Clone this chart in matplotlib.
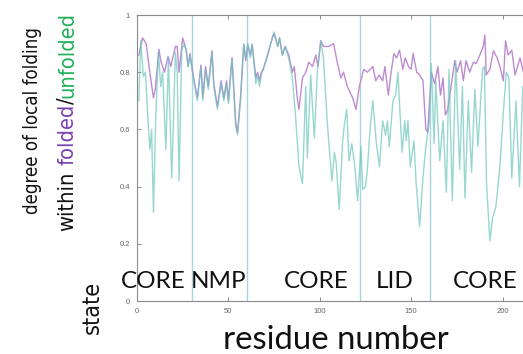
import matplotlib
matplotlib.use('Agg')
import matplotlib.pyplot as plt
from matplotlib import font_manager as fm

# ---------------- data ----------------
folded_res = [1, 3, 5, 7, 9, 10, 12, 13, 15, 17, 18.5, 21, 22, 23, 25, 27, 28, 29,
              31, 33, 35, 36, 37.5, 39, 41, 42, 44, 46, 47.5, 49, 50, 52, 54, 55, 56.6,
              58.4, 59.5, 60.6, 62, 63, 65, 66, 67, 68, 69, 71, 74, 75, 77, 78, 79.5,
              81, 83, 85, 86, 87.7, 88.6, 90.5, 92.3, 94, 96, 97.8, 99, 100.5, 102,
              105, 107.5, 109.7, 111.5, 113, 115, 118, 119.8, 121.6, 124, 126, 129,
              130.6, 132.5, 134.4, 135.6, 137.5, 139, 140.5, 142, 143.6, 145.4, 146.7,
              148.5, 150, 151, 153, 154.6, 156.4, 158, 159, 161, 162.8, 164.6, 166,
              167.4, 168.7, 170, 172, 173.8, 175, 177, 178.5, 180, 182, 184, 185.5,
              187.5, 189.4, 190.3, 191, 193, 195, 197, 198.5, 200.4, 201.6, 203, 205,
              206.8, 209.5, 211.4, 213]
folded = [0.86, 0.92, 0.90, 0.80, 0.71, 0.74, 0.88, 0.84, 0.80, 0.855, 0.82, 0.89, 0.89,
          0.80, 0.92, 0.875, 0.82, 0.865, 0.78, 0.71, 0.825, 0.71, 0.82, 0.75, 0.875,
          0.76, 0.68, 0.77, 0.71, 0.77, 0.70, 0.85, 0.62, 0.59, 0.71, 0.895, 0.84, 0.895,
          0.86, 0.895, 0.78, 0.80, 0.77, 0.80, 0.81, 0.85, 0.92, 0.935, 0.89, 0.92, 0.86,
          0.89, 0.86, 0.80, 0.82, 0.71, 0.67, 0.78, 0.80, 0.835, 0.82, 0.86, 0.82, 0.91,
          0.89, 0.89, 0.90, 0.83, 0.78, 0.80, 0.75, 0.71, 0.67, 0.75, 0.81, 0.80, 0.82,
          0.77, 0.79, 0.77, 0.82, 0.72, 0.80, 0.865, 0.85, 0.877, 0.81, 0.85, 0.82, 0.81,
          0.866, 0.80, 0.79, 0.772, 0.60, 0.59, 0.80, 0.76, 0.82, 0.72, 0.78, 0.65, 0.67,
          0.76, 0.84, 0.80, 0.84, 0.77, 0.84, 0.80, 0.835, 0.83, 0.86, 0.89, 0.93, 0.79,
          0.81, 0.875, 0.85, 0.82, 0.77, 0.91, 0.86, 0.877, 0.79, 0.85, 0.80, 0.82]

unfolded_res = [1, 2, 3.5, 4.6, 6.2, 7.1, 8, 9, 10.2, 11.7, 13, 14, 15.8, 17.2, 19, 21,
                22, 23, 24.5, 26, 27, 28, 29, 31, 33, 35, 36, 37.5, 39, 41, 42, 44, 46,
                47.5, 49, 50, 52, 54, 55, 56.6, 58.4, 59.5, 60.6, 62, 63, 65, 66, 67, 68,
                69, 71, 74, 75, 77, 78, 79.5, 81, 83, 85, 86.8, 88.6, 90.5, 92.3, 93.2,
                95, 97, 98.7, 100.5, 102, 104, 106.6, 108, 109, 110.6, 112.5, 113.5,
                114.7, 116, 117.5, 119, 120.7, 122.5, 123.5, 125, 126, 127.6, 129, 130.8,
                132.6, 134.4, 136, 137, 138, 140, 141.5, 142.7, 145, 146.5, 147.3, 148.2,
                149.5, 151.5, 152.7, 154.6, 156.4, 158, 160, 161, 162.5, 163.4, 165.6,
                167.4, 169.2, 170.7, 172.5, 174.3, 176.5, 178, 179.4, 181.2, 183, 184.8,
                186.5, 189, 190, 191.2, 193, 194.5, 196.3, 198.5, 200.4, 202, 203.4, 205,
                207.3, 209.2, 211, 213]
unfolded = [0.70, 0.91, 0.785, 0.80, 0.61, 0.53, 0.60, 0.31, 0.63, 0.87, 0.75, 0.80, 0.53,
            0.85, 0.43, 0.87, 0.80, 0.42, 0.88, 0.90, 0.87, 0.82, 0.86, 0.77, 0.70, 0.82,
            0.70, 0.81, 0.74, 0.87, 0.75, 0.67, 0.76, 0.70, 0.76, 0.69, 0.85, 0.61, 0.58,
            0.70, 0.90, 0.85, 0.90, 0.85, 0.90, 0.76, 0.79, 0.75, 0.79, 0.81, 0.85, 0.92,
            0.94, 0.89, 0.92, 0.86, 0.89, 0.85, 0.78, 0.64, 0.47, 0.41, 0.75, 0.50, 0.79,
            0.57, 0.81, 0.91, 0.85, 0.63, 0.42, 0.52, 0.48, 0.32, 0.56, 0.62, 0.67, 0.49,
            0.55, 0.48, 0.35, 0.54, 0.39, 0.40, 0.46, 0.61, 0.70, 0.56, 0.47, 0.63, 0.58,
            0.63, 0.54, 0.70, 0.72, 0.80, 0.52, 0.63, 0.56, 0.63, 0.47, 0.56, 0.41, 0.26,
            0.43, 0.54, 0.63, 0.83, 0.55, 0.77, 0.49, 0.63, 0.38, 0.81, 0.35, 0.84, 0.46,
            0.75, 0.36, 0.70, 0.45, 0.74, 0.54, 0.81, 0.82, 0.41, 0.21, 0.29, 0.33, 0.47,
            0.66, 0.80, 0.78, 0.43, 0.70, 0.40, 0.75, 0.70]

domain_names = ['CORE', 'NMP', 'CORE', 'LID', 'CORE']
domain_boundaries = [30, 60, 122, 160]

xticks = [0, 50, 100, 150, 200]
yticks = [0, 0.2, 0.4, 0.6, 0.8, 1]
ytick_labels = ['0', '0.2', '0.4', '0.6', '0.8', '1']

# ---------------- style ----------------
W, H = 523, 354


def has_font(name):
    try:
        fm.findfont(fm.FontProperties(family=name), fallback_to_default=False)
        return True
    except Exception:
        return False


MAIN = 'Lato' if has_font('Lato') else 'DejaVu Sans'
TICKF = 'Liberation Sans' if has_font('Liberation Sans') else 'DejaVu Sans'

# narrowest available font for the (horizontally squeezed) y label
NARROW, NSTRETCH = MAIN, 'normal'
for fam, st, key in [('Noto Sans', 'extra-condensed', 'xtraCondensed'),
                     ('Noto Sans', 'condensed', 'Condensed'),
                     ('DejaVu Sans', 'condensed', 'ondensed')]:
    try:
        p = fm.findfont(fm.FontProperties(family=fam, stretch=st),
                        fallback_to_default=False)
        if key in p:
            NARROW, NSTRETCH = fam, st
            break
    except Exception:
        pass

C_FOLD = '#bd8bd2'
C_UNF = '#6cc6bc'
C_FOLD_TXT = '#7b3fb3'
C_UNF_TXT = '#22b05a'
C_SEP = '#a9d5de'

fig = plt.figure(figsize=(W / 100, H / 100), dpi=100)
ax = fig.add_axes([137 / W, 1 - 301 / H, (W - 137) / W + 0.01, (301 - 15) / H])

ax.plot(folded_res, folded, color=C_FOLD, lw=1.0, zorder=3)
ax.plot(unfolded_res, unfolded, color=C_UNF, lw=1.0, alpha=0.7, zorder=4)

for b in domain_boundaries:
    ax.axvline(b, color=C_SEP, lw=1.0, zorder=2)

ax.set_xlim(0, 214)
ax.set_ylim(0, 1)
ax.set_xticks(xticks)
ax.set_xticklabels([str(t) for t in xticks])
ax.set_yticks(yticks)
ax.set_yticklabels(ytick_labels)
ax.tick_params(direction='in', length=3, width=0.6, colors='#777777', labelsize=5.5,
               top=True, pad=5)
for lab in ax.get_xticklabels() + ax.get_yticklabels():
    lab.set_fontfamily(TICKF)
    lab.set_color('#666666')
for s in ['left', 'top', 'bottom']:
    ax.spines[s].set_color('#8a8a8a')
    ax.spines[s].set_linewidth(0.8)
ax.spines['right'].set_visible(False)

# domain labels
label_x = [8.8, 44.5, 98, 141, 190.5]
for name, x in zip(domain_names, label_x):
    ax.text(x, 0.045, name, ha='center', va='baseline', fontsize=17.5,
            fontfamily=MAIN, color='#111111', zorder=5, clip_on=False)

renderer = fig.canvas.get_renderer()


def measure(txt, family, size, rot=0, stretch='normal'):
    t = fig.text(0, 0, txt, fontsize=size, fontfamily=family, rotation=rot,
                 fontstretch=stretch)
    bb = t.get_window_extent(renderer)
    t.remove()
    return bb


def fit_size(txt, family, target, rot=0, stretch='normal'):
    bb = measure(txt, family, 20, rot, stretch)
    length = bb.height if rot == 90 else bb.width
    return 20 * target / length


# x label
xs = fit_size('residue number', MAIN, 227)
fig.text(336 / W, 1 - 349 / H, 'residue number', ha='center', va='baseline',
         fontsize=xs, fontfamily=MAIN, color='#111111')


def vlabel(pieces, x_px, y_start_ref, length):
    full = ''.join(p for p, _ in pieces)
    size = fit_size(full, NARROW, length, 90, NSTRETCH)
    y = H - y_start_ref
    for txt, col in pieces:
        if txt == ' ':
            w = (measure('a a', NARROW, size, 90, NSTRETCH).height
                 - measure('aa', NARROW, size, 90, NSTRETCH).height)
            y += w
            continue
        t = fig.text(x_px / W, y / H, txt, rotation=90, rotation_mode='anchor',
                     ha='left', va='baseline', fontsize=size, fontfamily=NARROW,
                     fontstretch=NSTRETCH, color=col)
        bb = t.get_window_extent(renderer)
        y = bb.y1


vlabel([('degree of local folding', '#111111')], 38, 214, 188)
vlabel([('within', '#111111'), (' ', None), ('folded', C_FOLD_TXT),
        ('/', '#111111'), ('unfolded', C_UNF_TXT)], 73, 231, 220)
vlabel([('state', '#111111')], 99, 334, 53)

fig.savefig('out.png', dpi=100)
